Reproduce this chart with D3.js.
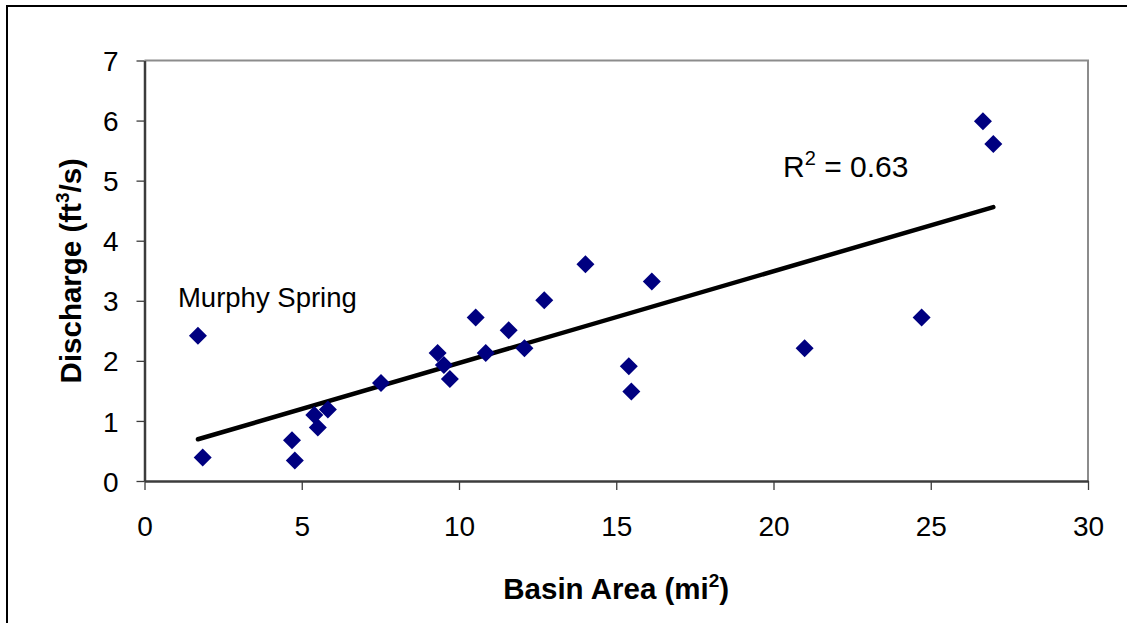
<!DOCTYPE html>
<html>
<head>
<meta charset="utf-8">
<script src="https://cdn.jsdelivr.net/npm/d3@7"></script>
<style>
  html, body { margin: 0; padding: 0; background: #fff; }
  svg { display: block; font-family: "Liberation Sans", Arial, sans-serif; }
</style>
</head>
<body>
<svg id="chart" width="1127" height="623"></svg>
<script>
// Data
const basinArea = [1.70, 1.85, 4.69, 4.78, 5.40, 5.51, 5.83, 7.52, 9.32, 9.52, 9.71, 10.53,
                   10.85, 11.58, 12.08, 12.71, 14.02, 16.13, 15.40, 15.48, 26.66, 26.99, 24.71, 20.99];
const discharge = [2.42, 0.39, 0.68, 0.34, 1.10, 0.89, 1.19, 1.63, 2.13, 1.93, 1.70, 2.72,
                   2.13, 2.51, 2.21, 3.01, 3.61, 3.32, 1.91, 1.49, 5.99, 5.61, 2.72, 2.21];
const xTicks = [0, 5, 10, 15, 20, 25, 30];
const yTicks = [0, 1, 2, 3, 4, 5, 6, 7];
const annotationLabel = "Murphy Spring";
const annotationX = 1.70, annotationY = 2.42;
const r2Label = "0.63";

const svg = d3.select("#chart");
const W = 1127, H = 623;
const plot = { left: 144.5, right: 1088, top: 60.5, bottom: 481 };

const x = d3.scaleLinear().domain([0, 30]).range([plot.left, plot.right]);
const y = d3.scaleLinear().domain([0, 7]).range([plot.bottom, plot.top]);

// outer border
svg.append("rect")
  .attr("x", 7).attr("y", 6).attr("width", W + 10).attr("height", H + 10)
  .attr("fill", "#fff").attr("stroke", "#000").attr("stroke-width", 2);

// plot frame top/right (gray)
svg.append("path")
  .attr("d", `M${plot.left},${plot.top}H${plot.right}V${plot.bottom}`)
  .attr("fill", "none").attr("stroke", "#8c8c8c").attr("stroke-width", 2);

// axes
const xAxis = d3.axisBottom(x).tickValues(xTicks).tickFormat(d3.format("d"))
  .tickSize(9).tickSizeOuter(0).tickPadding(26);
const yAxis = d3.axisLeft(y).tickValues(yTicks).tickFormat(d3.format("d"))
  .tickSize(8).tickSizeOuter(0).tickPadding(18);

const gx = svg.append("g").attr("transform", `translate(0,${plot.bottom})`).call(xAxis);
const gy = svg.append("g").attr("transform", `translate(${plot.left},0)`).call(yAxis);

[gx, gy].forEach(g => {
  g.select(".domain").attr("stroke", "#3c3c3c").attr("stroke-width", 2.5);
  g.selectAll(".tick line").attr("stroke", "#3c3c3c").attr("stroke-width", 1.3);
  g.selectAll(".tick text").attr("fill", "#000").attr("font-size", 28)
    .attr("font-family", "'Liberation Sans', Arial, sans-serif");
});
gx.selectAll(".tick text").attr("dy", "0.71em");
gy.selectAll(".tick text").attr("dy", "0.36em");

// regression line
const n = basinArea.length;
const mx = d3.mean(basinArea), my = d3.mean(discharge);
let sxy = 0, sxx = 0;
for (let i = 0; i < n; i++) { sxy += (basinArea[i] - mx) * (discharge[i] - my); sxx += (basinArea[i] - mx) ** 2; }
const slope = sxy / sxx, intercept = my - slope * mx;
const xMin = d3.min(basinArea), xMax = d3.max(basinArea);
svg.append("line")
  .attr("x1", x(xMin)).attr("y1", y(intercept + slope * xMin))
  .attr("x2", x(xMax)).attr("y2", y(intercept + slope * xMax))
  .attr("stroke", "#000").attr("stroke-width", 4.5).attr("stroke-linecap", "round");

// diamonds
const d = 9;
svg.append("g").selectAll("path")
  .data(basinArea.map((v, i) => [v, discharge[i]]))
  .join("path")
  .attr("d", p => `M${x(p[0])},${y(p[1]) - d}L${x(p[0]) + d},${y(p[1])}L${x(p[0])},${y(p[1]) + d}L${x(p[0]) - d},${y(p[1])}Z`)
  .attr("fill", "#000080");

// annotations
svg.append("text")
  .attr("x", x(annotationX) - 20).attr("y", y(annotationY) - 29)
  .attr("font-size", 27.5).attr("fill", "#000")
  .text(annotationLabel);

const r2 = svg.append("text")
  .attr("x", 783).attr("y", 177)
  .attr("font-size", 30).attr("fill", "#000");
r2.append("tspan").text("R");
r2.append("tspan").attr("font-size", 20).attr("dy", -12).text("2");
r2.append("tspan").attr("dy", 12).text(" = " + r2Label);

// axis titles
const xt = svg.append("text")
  .attr("x", (plot.left + plot.right) / 2).attr("y", 599)
  .attr("text-anchor", "middle").attr("font-size", 29.5).attr("font-weight", "bold").attr("fill", "#000");
xt.append("tspan").text("Basin Area (mi");
xt.append("tspan").attr("font-size", 19).attr("dy", -12).text("2");
xt.append("tspan").attr("dy", 12).text(")");

const yt = svg.append("text")
  .attr("transform", `translate(81,${(plot.top + plot.bottom) / 2}) rotate(-90)`)
  .attr("text-anchor", "middle").attr("font-size", 29.5).attr("font-weight", "bold").attr("fill", "#000");
yt.append("tspan").text("Discharge (ft");
yt.append("tspan").attr("font-size", 19).attr("dy", -12).text("3");
yt.append("tspan").attr("dy", 12).text("/s)");
</script>
</body>
</html>
